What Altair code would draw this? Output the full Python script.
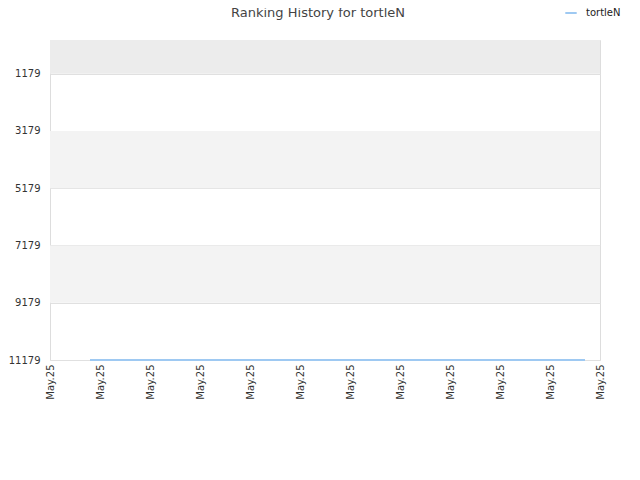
import altair as alt
import pandas as pd

# data
series_name = "tortleN"
x_pos = [0.8, 10.7]
ranks = [11179, 11179]
y_ticks = [1179, 3179, 5179, 7179, 9179, 11179]
x_ticks = list(range(12))
x_label = "May.25"
band_start = [0, 3179, 7179]
band_end = [1179, 5179, 9179]
band_color = ["#ececec", "#f3f3f3", "#f3f3f3"]

line_df = pd.DataFrame({"x": x_pos, "rank": ranks, "series": [series_name] * len(x_pos)})
band_df = pd.DataFrame({"y": band_start, "y2": band_end, "c": band_color})

ydom = [0, 11179]
yscale = alt.Scale(domain=ydom, reverse=True, nice=False, zero=False)
xscale = alt.Scale(domain=[0, 11], nice=False, zero=False)

bands = alt.Chart(band_df).mark_rect().encode(
    y=alt.Y("y:Q", scale=yscale),
    y2="y2:Q",
    x=alt.value(0),
    x2=alt.value(550),
    fill=alt.Fill("c:N", scale=None, legend=None),
)

line = alt.Chart(line_df).mark_line(strokeWidth=2).encode(
    x=alt.X("x:Q", scale=xscale,
            axis=alt.Axis(values=x_ticks, labelExpr=f"'{x_label}'", labelAngle=-90,
                          title=None, grid=False, domain=False, ticks=False,
                          labelFontSize=10, labelColor="#333", labelPadding=4,
                          labelFont="DejaVu Sans")),
    y=alt.Y("rank:Q", scale=yscale,
            axis=alt.Axis(values=y_ticks, format="d", title=None, grid=True, gridColor="#e0e0e0",
                          domain=False, ticks=False, labelFontSize=10, labelColor="#333",
                          labelPadding=10, labelFont="DejaVu Sans")),
    color=alt.Color("series:N", scale=alt.Scale(range=["#9ec9f2"]),
                    legend=alt.Legend(title=None, orient="none", legendX=514, legendY=-34,
                                      symbolType="stroke", symbolStrokeWidth=2, symbolSize=130,
                                      labelOffset=8,
                                      labelFontSize=10, labelFont="DejaVu Sans",
                                      labelColor="#222")),
)

chart = alt.layer(bands, line).properties(
    width=550, height=320,
    title=alt.TitleParams("Ranking History for tortleN", fontSize=13, fontWeight="normal",
                          color="#444", font="DejaVu Sans", anchor="middle", dx=-7, offset=-14),
    autosize=alt.AutoSizeParams(type="none"),
    padding={"left": 42, "top": 32, "right": 32, "bottom": 112},
).configure_view(stroke="#dddddd")

chart.save("out.html", embed_options={"renderer": "svg", "actions": False})
